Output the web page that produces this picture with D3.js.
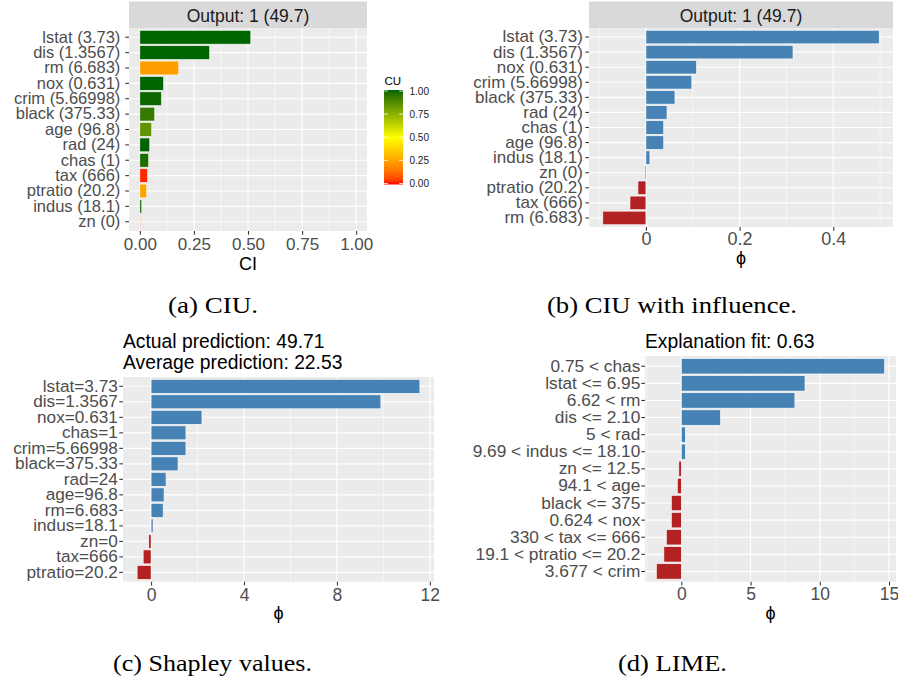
<!DOCTYPE html>
<html><head><meta charset="utf-8">
<script src="https://cdn.jsdelivr.net/npm/d3@7"></script>
<style>body{margin:0;background:#fff}svg{display:block}</style>
</head><body><svg id="c" width="898" height="681"></svg>
<script>
// ---------- data ----------
const ciuLabels = ["lstat (3.73)","dis (1.3567)","rm (6.683)","nox (0.631)","crim (5.66998)","black (375.33)","age (96.8)","rad (24)","chas (1)","tax (666)","ptratio (20.2)","indus (18.1)","zn (0)"];
const ciuCI = [0.513,0.323,0.180,0.110,0.100,0.069,0.055,0.046,0.041,0.036,0.032,0.009,0.003];
const ciuCU = [1.0,1.0,0.24,1.0,0.99,0.93,0.84,1.0,0.97,0.02,0.25,0.98,0.05];
const ciuTicks = [0,0.25,0.5,0.75,1];
const cuTicks = [0,0.25,0.5,0.75,1];

const inflLabels = ["lstat (3.73)","dis (1.3567)","nox (0.631)","crim (5.66998)","black (375.33)","rad (24)","chas (1)","age (96.8)","indus (18.1)","zn (0)","ptratio (20.2)","tax (666)","rm (6.683)"];
const inflPhi = [0.498,0.314,0.108,0.098,0.062,0.045,0.038,0.038,0.0085,-0.002,-0.017,-0.034,-0.092];
const inflTicks = [0,0.2,0.4];

const shapLabels = ["lstat=3.73","dis=1.3567","nox=0.631","chas=1","crim=5.66998","black=375.33","rad=24","age=96.8","rm=6.683","indus=18.1","zn=0","tax=666","ptratio=20.2"];
const shapPhi = [11.57,9.89,2.19,1.5,1.5,1.16,0.645,0.56,0.52,0.086,-0.1,-0.34,-0.6];
const shapTicks = [0,4,8,12];

const limeLabels = ["0.75 < chas","lstat <= 6.95","6.62 < rm","dis <= 2.10","5 < rad","9.69 < indus <= 18.10","zn <= 12.5","94.1 < age","black <= 375","0.624 < nox","330 < tax <= 666","19.1 < ptratio <= 20.2","3.677 < crim"];
const limePhi = [14.68,8.93,8.2,2.83,0.29,0.29,-0.18,-0.29,-0.72,-0.72,-1.08,-1.26,-1.8];
const limeTicks = [0,5,10,15];

// ---------- drawing ----------
const svg = d3.select("#c");
const FONT = "'Liberation Sans', Arial, Helvetica, sans-serif";
const SERIF = "'Liberation Serif', 'Times New Roman', serif";
svg.append("rect").attr("width",898).attr("height",681).attr("fill","#fff");

const cuColor = d3.scaleLinear().domain([0,0.5,1]).range(["#FF0000","#FFFF00","#006400"]).interpolate(d3.interpolateLab);
const POS = "#4682B4", NEG = "#B22222";

function expand(vals){
  const ext = d3.extent(vals);
  const w = ext[1]-ext[0];
  return [ext[0]-0.05*w, ext[1]+0.05*w];
}

function drawPanel(p){
  const g = svg.append("g");
  const x = d3.scaleLinear().domain(p.domain).range([p.x0,p.x1]);
  const y = d3.scaleBand().domain(p.labels).range([p.y0,p.y1]).paddingInner(0).paddingOuter(0.1);
  const bw = y.bandwidth();
  g.append("rect").attr("x",p.x0).attr("y",p.y0).attr("width",p.x1-p.x0).attr("height",p.y1-p.y0).attr("fill","#EBEBEB");
  const st = p.ticks[1]-p.ticks[0];
  const minor = [];
  for(let i=-1;i<p.ticks.length;i++){const v=p.ticks[0]+(i+0.5)*st; if(v>=p.domain[0]&&v<=p.domain[1]) minor.push(v);}
  g.selectAll(".mn").data(minor).join("line").attr("x1",d=>x(d)).attr("x2",d=>x(d))
    .attr("y1",p.y0).attr("y2",p.y1).attr("stroke","#fff").attr("stroke-width",0.55);
  g.selectAll(".mj").data(p.ticks).join("line").attr("x1",d=>x(d)).attr("x2",d=>x(d))
    .attr("y1",p.y0).attr("y2",p.y1).attr("stroke","#fff").attr("stroke-width",1.1);
  g.selectAll(".hg").data(p.labels).join("line").attr("x1",p.x0).attr("x2",p.x1)
    .attr("y1",d=>y(d)+bw/2).attr("y2",d=>y(d)+bw/2).attr("stroke","#fff").attr("stroke-width",1.1);
  g.selectAll(".bar").data(p.values).join("rect")
    .attr("x",d=>x(Math.min(0,d))).attr("width",d=>Math.abs(x(d)-x(0)))
    .attr("y",(d,i)=>y(p.labels[i])+0.05*bw).attr("height",0.9*bw)
    .attr("fill",(d,i)=>p.color(d,i)).attr("stroke","#fff").attr("stroke-width",0.6);
  const ax = g.append("g").attr("transform",`translate(0,${p.y1})`)
    .call(d3.axisBottom(x).tickValues(p.ticks).tickFormat(p.fmt).tickSize(3.7).tickPadding(p.xPad));
  ax.select(".domain").remove();
  ax.selectAll("line").attr("stroke","#333").attr("stroke-width",1.07);
  ax.selectAll("text").attr("fill","#4D4D4D").style("font-size",p.xSize+"px").style("font-family",FONT);
  const ay = g.append("g").attr("transform",`translate(${p.x0},0)`)
    .call(d3.axisLeft(y).tickSize(3.7).tickPadding(p.yPad));
  ay.select(".domain").remove();
  ay.selectAll("line").attr("stroke","#333").attr("stroke-width",1.07);
  ay.selectAll("text").attr("fill","#4D4D4D").style("font-size",p.ySize+"px").style("font-family",FONT);
  if(p.strip){
    g.append("rect").attr("x",p.x0).attr("y",1.5).attr("width",p.x1-p.x0).attr("height",p.y0-1.5).attr("fill","#D9D9D9");
    g.append("text").attr("x",(p.x0+p.x1)/2).attr("y",22.3).attr("text-anchor","middle")
      .attr("fill","#1A1A1A").style("font-family",FONT).style("font-size","17.5px").text(p.strip);
  }
  if(p.titles){
    p.titles.forEach((t,i)=>{
      g.append("text").attr("x",p.x0).attr("y",p.titleY[i]).attr("fill","#000")
        .style("font-family",FONT).style("font-size","19.3px").text(t);
    });
  }
  g.append("text").attr("x",(p.x0+p.x1)/2).attr("y",p.axisTitleY).attr("text-anchor","middle")
    .attr("fill","#000").style("font-family",FONT).style("font-size",p.axisTitleSize+"px").text(p.axisTitle);
  return {x,y};
}

// (a) CIU
drawPanel({x0:129,x1:367,y0:28,y1:231,domain:[-0.05,1.05],labels:ciuLabels,values:ciuCI,
  color:(d,i)=>cuColor(ciuCU[i]),ticks:ciuTicks,fmt:d3.format(".2f"),xPad:3.2,xSize:17,yPad:5,ySize:16.5,
  strip:"Output: 1 (49.7)",axisTitle:"CI",axisTitleY:270,axisTitleSize:18});

// legend
(function(){
  const lx0=384, lx1=403, ly0=90, ly1=184.5;
  const ys = d3.scaleLinear().domain([0,1]).range([183.5,91]);
  const defs = svg.append("defs");
  const grad = defs.append("linearGradient").attr("id","cug").attr("x1",0).attr("y1",1).attr("x2",0).attr("y2",0);
  d3.range(0,1.0001,0.05).forEach(t=>grad.append("stop").attr("offset",t).attr("stop-color",cuColor(t)));
  svg.append("rect").attr("x",lx0).attr("y",ly0).attr("width",lx1-lx0).attr("height",ly1-ly0).attr("fill","url(#cug)");
  svg.append("text").attr("x",384.5).attr("y",84.5).attr("fill","#000").style("font-family",FONT).style("font-size","11.5px").text("CU");
  cuTicks.forEach(t=>{
    svg.append("line").attr("x1",lx0).attr("x2",lx0+3.8).attr("y1",ys(t)).attr("y2",ys(t)).attr("stroke","#fff").attr("stroke-width",0.8);
    svg.append("line").attr("x1",lx1-3.8).attr("x2",lx1).attr("y1",ys(t)).attr("y2",ys(t)).attr("stroke","#fff").attr("stroke-width",0.8);
    svg.append("text").attr("x",409.5).attr("y",ys(t)+3.6).attr("fill","#1A1A1A").style("font-family",FONT).style("font-size","10px").text(d3.format(".2f")(t));
  });
})();

// (b) CIU influence
drawPanel({x0:589,x1:893,y0:28,y1:227,domain:expand(inflPhi),labels:inflLabels,values:inflPhi,
  color:d=>d>=0?POS:NEG,ticks:inflTicks,fmt:d3.format(""),xPad:1.8,xSize:18,yPad:2.5,ySize:17,
  strip:"Output: 1 (49.7)",axisTitle:"ϕ",axisTitleY:264,axisTitleSize:18});

// (c) Shapley
drawPanel({x0:123,x1:434,y0:377,y1:581.7,domain:expand(shapPhi),labels:shapLabels,values:shapPhi,
  color:d=>d>=0?POS:NEG,ticks:shapTicks,fmt:d3.format(""),xPad:3,xSize:17.5,yPad:1.5,ySize:17.2,
  titles:["Actual prediction: 49.71","Average prediction: 22.53"],titleY:[347.5,368.5],
  axisTitle:"ϕ",axisTitleY:619,axisTitleSize:18});

// (d) LIME
drawPanel({x0:645,x1:896,y0:356,y1:581.7,domain:expand(limePhi),labels:limeLabels,values:limePhi,
  color:d=>d>=0?POS:NEG,ticks:limeTicks,fmt:d3.format(""),xPad:2,xSize:17.5,yPad:1,ySize:17.3,
  titles:["Explanation fit: 0.63"],titleY:[347.5],
  axisTitle:"ϕ",axisTitleY:619,axisTitleSize:18});

// captions
const captions = [
  {t:"(a) CIU.",cx:213,y:313,w:90},
  {t:"(b) CIU with influence.",cx:672,y:313,w:250},
  {t:"(c) Shapley values.",cx:212.5,y:671,w:199},
  {t:"(d) LIME.",cx:672.5,y:671,w:109}
];
captions.forEach(c=>{
  svg.append("text").attr("x",c.cx-c.w/2).attr("y",c.y).attr("textLength",c.w).attr("lengthAdjust","spacingAndGlyphs")
    .attr("fill","#000").style("font-family",SERIF).style("font-size","23px").text(c.t);
});
</script>
</body></html>
